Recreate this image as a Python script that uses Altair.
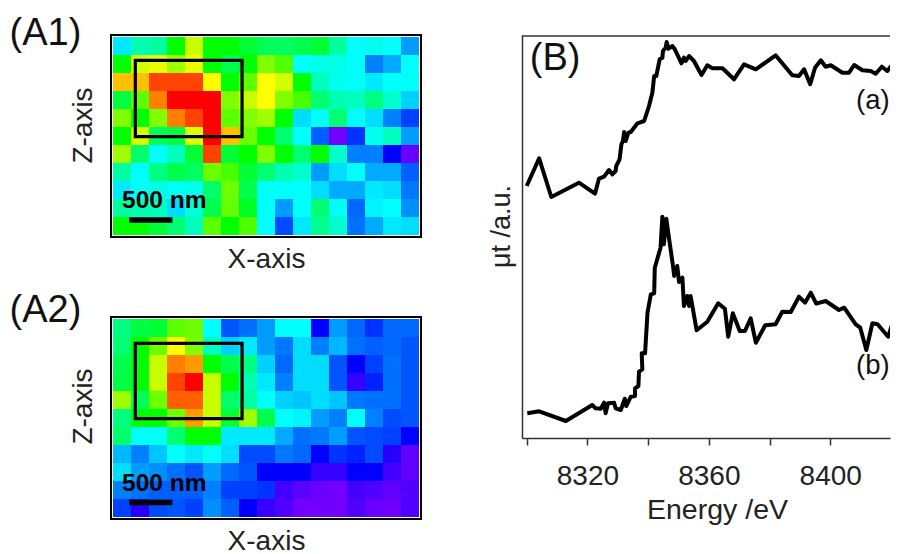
import altair as alt
import pandas as pd

FONT = "Liberation Sans"

A1 = [
    [28, 37, 38, 50, 65, 50, 50, 48, 45, 44, 46, 48, 38, 30, 32, 30, 22],
    [50, 66, 68, 62, 68, 50, 46, 50, 60, 54, 30, 33, 33, 30, 20, 23, 30],
    [75, 75, 87, 87, 87, 70, 50, 55, 70, 66, 50, 36, 32, 31, 28, 30, 31],
    [47, 55, 80, 90, 90, 90, 60, 65, 70, 60, 53, 42, 37, 36, 40, 35, 26],
    [60, 50, 60, 80, 87, 90, 55, 60, 62, 50, 27, 31, 42, 30, 27, 20, 13],
    [50, 66, 45, 47, 67, 90, 75, 57, 50, 42, 30, 16, 2, 12, 32, 36, 22],
    [62, 43, 30, 36, 48, 87, 48, 50, 60, 50, 42, 50, 35, 20, 20, 10, 3],
    [38, 30, 40, 46, 44, 57, 53, 48, 42, 37, 35, 22, 27, 30, 23, 23, 16],
    [28, 31, 33, 31, 32, 43, 57, 46, 31, 30, 30, 27, 23, 23, 28, 27, 19],
    [38, 37, 36, 27, 34, 46, 56, 49, 30, 22, 30, 42, 31, 17, 29, 30, 21],
    [50, 50, 48, 42, 36, 55, 50, 54, 30, 14, 28, 39, 35, 18, 23, 28, 27],
]
A2 = [
    [40, 47, 48, 55, 57, 30, 15, 18, 22, 30, 30, 10, 22, 17, 12, 17, 17],
    [42, 50, 57, 70, 60, 36, 26, 28, 22, 19, 27, 20, 24, 18, 16, 17, 15],
    [46, 50, 65, 80, 78, 50, 46, 40, 26, 17, 27, 27, 15, 10, 13, 18, 15],
    [47, 50, 65, 87, 90, 65, 50, 37, 28, 20, 27, 27, 15, 8, 11, 18, 15],
    [62, 45, 57, 84, 84, 65, 43, 38, 31, 26, 25, 27, 25, 19, 18, 18, 15],
    [40, 50, 50, 57, 78, 65, 48, 62, 46, 30, 29, 22, 20, 30, 20, 14, 15],
    [43, 31, 31, 42, 50, 50, 28, 28, 28, 23, 18, 19, 22, 15, 14, 13, 10],
    [24, 20, 25, 30, 28, 31, 27, 14, 14, 19, 17, 10, 12, 11, 14, 9, 4],
    [27, 22, 21, 18, 15, 22, 17, 15, 10, 10, 10, 8, 8, 10, 10, 7, 4],
    [20, 18, 16, 16, 16, 20, 13, 13, 12, 7, 5, 3, 2, 7, 6, 4, 6],
    [13, 9, 14, 15, 13, 21, 16, 10, 8, 6, 2, 2, 2, 6, 3, 2, 6],
]
SCALE_D = [0, 10, 20, 30, 40, 50, 60, 70, 80, 90]
SCALE_R = ["#7f00ff", "#0000ff", "#0080ff", "#00ffff", "#00ff80",
           "#00ff00", "#80ff00", "#ffff00", "#ff8000", "#ff0000"]

E_A = [8300, 8304.1, 8308.1, 8317.2, 8322.5, 8323.8, 8325.5, 8327.1, 8328.2, 8329.3, 8329.5,
       8330.6, 8331.2, 8331.7, 8332.1, 8332.6, 8333.5, 8334.3, 8336.5, 8338.7, 8340.3, 8341.4,
       8342, 8342.7, 8343.8, 8344.7, 8344.9, 8345.8, 8346.1, 8346.7, 8348, 8348.8, 8349.6, 8351,
       8351.8, 8352.4, 8353.5, 8355.1, 8357.6, 8359.5, 8361.2, 8364.5, 8368.3, 8371.6, 8375.5,
       8382, 8387.5, 8389.7, 8391.4, 8393.4, 8395, 8396.9, 8398.5, 8400.2, 8404, 8406.2, 8407.9,
       8410.6, 8413.3, 8415, 8417, 8418.8, 8420.5, 8422.3]
MU_A = [252, 279.7, 241, 255.3, 244.3, 259.3, 261.3, 268, 263.7, 267, 272,
        278.7, 293.7, 297, 306, 297, 305.3, 306, 314.7, 317, 332, 345.3,
        362, 362, 378.7, 380.3, 387, 390.3, 396, 389.3, 392, 388.7, 383.7, 374.7,
        380.3, 377, 382, 377, 363, 372.7, 369.7, 369.7, 358.7, 373.7, 368.7,
        382.7, 362.7, 362, 368.7, 353.7, 370.3, 377.7, 371.3, 372.7, 365.3, 365.3, 373,
        367.7, 367, 364.3, 371.3, 367, 373.7, 374.7]
E_B = [8300.2, 8304.1, 8312.9, 8321.6, 8322.7, 8324.4, 8325.5, 8326, 8326.8, 8328.8, 8329.3,
       8331, 8332.3, 8332.8, 8334.3, 8335.7, 8335.7, 8336.8, 8337, 8338.1, 8337.9, 8339,
       8339.8, 8340.9, 8342, 8342.2, 8344.1, 8344.7, 8345.2, 8346, 8346.7, 8348.2, 8348.6,
       8349.6, 8350.2, 8351.3, 8351.8, 8352.9, 8353.5, 8354, 8356, 8359.5, 8363.1, 8365.3,
       8366.4, 8367.9, 8370.2, 8371.9, 8373.8, 8375.5, 8378.6, 8382, 8384.2, 8387, 8389.7,
       8391.7, 8393.6, 8395.4, 8398.5, 8402.9, 8404.6, 8408.4, 8409.9, 8411.9, 8413.9, 8415.6,
       8419.1, 8420.7, 8422.3]
MU_B = [24.7, 26.7, 17, 33, 29.7, 29.3, 35.3, 24.7, 34.7, 35.3, 29.7,
        28, 39.3, 32, 41.3, 42, 49.7, 52, 66.3, 68.7, 84.7, 84.7,
        125.3, 143.7, 144.7, 170.3, 190.3, 221.3, 193.7, 219.3, 203.7, 172, 162,
        172, 156, 160.3, 132, 142, 132, 142, 107.7, 116.3, 134.7, 129.3,
        101.3, 124.7, 107, 107, 119.7, 95.3, 112.7, 113.7, 126.3, 126, 141.3,
        135.3, 145.3, 134.3, 137, 128, 130.3, 113.7, 110.3, 88, 114.7, 113.7,
        101.3, 116.3, 100.3]
E_TICKS = [8300, 8320, 8340, 8360, 8380, 8400]


def heat(grid, label, label_row, box_rows, bar_row, text_row, z_y):
    cells = pd.DataFrame(
        [{"c": c, "c2": c + 1, "r": r, "r2": r + 1, "v": v}
         for r, row in enumerate(grid) for c, v in enumerate(row)]
    )
    x_scale = alt.Scale(domain=[-1 / 9, 17 + 1 / 9], nice=False, zero=False)
    y_scale = alt.Scale(domain=[11 + 1 / 9, -1 / 9], nice=False, zero=False)
    x_ax = alt.Axis(title="X-axis", labels=False, ticks=False, domain=False, grid=False,
                    titleFont=FONT, titleFontSize=28, titleFontWeight="normal",
                    titleColor="#222", titlePadding=8, titleX=155)
    y_ax = alt.Axis(title="Z-axis", labels=False, ticks=False, domain=False, grid=False,
                    titleFont=FONT, titleFontSize=28, titleFontWeight="normal",
                    titleColor="#222", titlePadding=14, titleY=z_y)
    base = alt.Chart(cells).mark_rect(stroke=None).encode(
        x=alt.X("c:Q", scale=x_scale, axis=x_ax),
        x2="c2:Q",
        y=alt.Y("r:Q", scale=y_scale, axis=y_ax),
        y2="r2:Q",
        color=alt.Color("v:Q", scale=alt.Scale(domain=SCALE_D, range=SCALE_R), legend=None),
    )
    box = alt.Chart(pd.DataFrame([{"a": 1.24, "b": 7.17, "t": box_rows[0], "u": box_rows[1]}])).mark_rect(
        filled=False, stroke="#000", strokeWidth=3.2
    ).encode(
        x=alt.X("a:Q", scale=x_scale, axis=x_ax), x2="b:Q",
        y=alt.Y("t:Q", scale=y_scale, axis=y_ax), y2="u:Q",
    )
    bar = alt.Chart(pd.DataFrame([{"a": 0.9, "b": 3.3, "t": bar_row}])).mark_rule(
        color="#000", strokeWidth=5.5
    ).encode(
        x=alt.X("a:Q", scale=x_scale, axis=x_ax), x2="b:Q",
        y=alt.Y("t:Q", scale=y_scale, axis=y_ax),
    )
    txt = alt.Chart(pd.DataFrame([{"a": 2.85, "t": text_row, "s": "500 nm"}])).mark_text(
        font=FONT, fontSize=24.5, fontWeight="bold", color="#000", align="center", baseline="middle"
    ).encode(
        x=alt.X("a:Q", scale=x_scale, axis=x_ax),
        y=alt.Y("t:Q", scale=y_scale, axis=y_ax), text="s:N",
    )
    lab = alt.Chart(pd.DataFrame([{"a": -5.75, "t": label_row, "s": label}])).mark_text(
        font=FONT, fontSize=38, color="#111", align="left", baseline="middle"
    ).encode(
        x=alt.X("a:Q", scale=x_scale, axis=x_ax),
        y=alt.Y("t:Q", scale=y_scale, axis=y_ax), text="s:N",
    )
    return alt.layer(base, box, bar, txt, lab).properties(width=310, height=202)


a1 = heat(A1, "(A1)", -0.17, (1.30, 5.54), 10.17, 9.11, 90)
a2 = heat(A2, "(A2)", -0.44, (1.35, 5.54), 10.19, 9.19, 89)

bx = alt.Scale(domain=[8298.45, 8419.7], nice=False, zero=False)
by = alt.Scale(domain=[0, 403], nice=False, zero=False)
bx_ax = alt.Axis(
    title="Energy /eV", values=E_TICKS, grid=False, domainColor="#333", domainWidth=1.5,
    tickColor="#333", tickWidth=1.5, tickSize=7, labelFont=FONT, labelFontSize=28,
    labelColor="#222", labelPadding=17, labelOverlap=False, labelFlush=False,
    labelExpr="datum.value % 40 == 0 ? format(datum.value, 'd') : ''",
    titleFont=FONT, titleFontSize=28.5, titleFontWeight="normal", titleColor="#222",
    titlePadding=5, titleX=195,
)
by_ax = alt.Axis(
    title="μt /a.u.", labels=False, ticks=False, grid=False, domainColor="#333", domainWidth=1.5,
    titleFont=FONT, titleFontSize=27, titleFontWeight="normal", titleColor="#222",
    titlePadding=7, titleY=191,
)
df_a = pd.DataFrame({"e": E_A, "m": MU_A, "i": range(len(E_A))})
df_b = pd.DataFrame({"e": E_B, "m": MU_B, "i": range(len(E_B))})


def curve(df):
    return alt.Chart(df).mark_line(color="#000", strokeWidth=4, clip=True, strokeJoin="round").encode(
        x=alt.X("e:Q", scale=bx, axis=bx_ax),
        y=alt.Y("m:Q", scale=by, axis=by_ax),
        order="i:Q",
    )


top = alt.Chart(pd.DataFrame({"m": [402]})).mark_rule(color="#333", strokeWidth=1.5).encode(
    y=alt.Y("m:Q", scale=by, axis=by_ax)
)
notes = alt.Chart(pd.DataFrame({
    "e": [8301, 8408.5, 8408.5],
    "m": [379, 337, 72],
    "s": ["(B)", "(a)", "(b)"],
    "z": [38, 27.5, 27.5],
})).mark_text(font=FONT, color="#111", align="left", baseline="middle").encode(
    x=alt.X("e:Q", scale=bx, axis=bx_ax),
    y=alt.Y("m:Q", scale=by, axis=by_ax),
    text="s:N",
    size=alt.Size("z:Q", scale=None, legend=None),
)
b = alt.layer(top, curve(df_a), curve(df_b), notes).properties(
    width=368, height=403, view=alt.ViewBackground(stroke=None)
)

left = alt.vconcat(a1, a2, spacing=80, bounds="flush")
chart = alt.hconcat(left, b, spacing=65).properties(
    padding={"left": 0, "top": 5, "right": 0, "bottom": 0}
).configure_view(stroke="#000", strokeWidth=2)

chart.save("out.html", embed_options={"renderer": "svg", "actions": False})
